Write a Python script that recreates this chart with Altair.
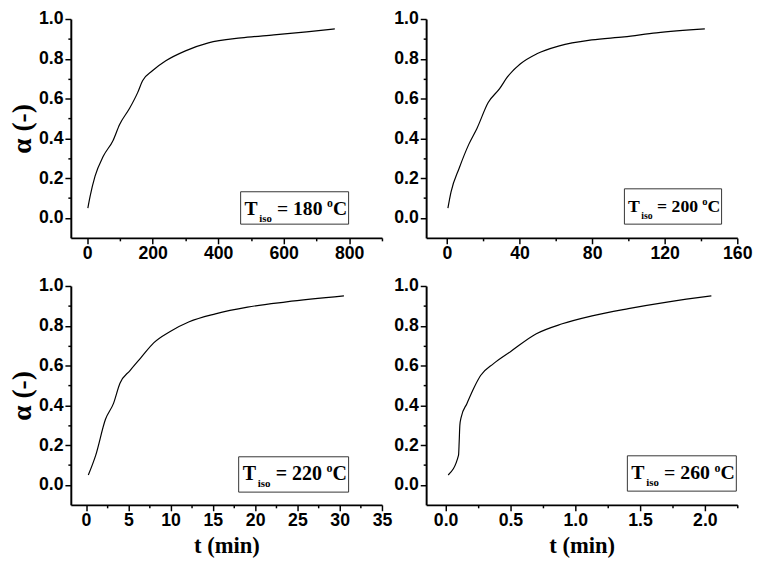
import altair as alt
import pandas as pd

# ---- data ----
t180 = [2, 9, 24, 49, 79, 99, 129, 154, 169, 199, 240, 300, 370, 470, 570, 670, 756]
a180 = [0.05, 0.11, 0.21, 0.31, 0.39, 0.47, 0.55, 0.63, 0.69, 0.74, 0.79, 0.84, 0.88, 0.905, 0.92, 0.935, 0.95]

t200 = [0.5, 2.2, 6.7, 12.0, 16.5, 22.7, 29.0, 33.4, 40.5, 49.5, 61.9, 79.8, 97.6, 115.4, 142.1]
a200 = [0.05, 0.13, 0.25, 0.37, 0.45, 0.58, 0.65, 0.71, 0.775, 0.825, 0.865, 0.895, 0.91, 0.93, 0.95]

t220 = [0.27, 1.15, 2.3, 3.25, 4.0, 5.2, 6.5, 8.0, 9.9, 12.2, 15.3, 19.1, 23.7, 30.5]
a220 = [0.05, 0.15, 0.33, 0.41, 0.51, 0.575, 0.64, 0.714, 0.77, 0.82, 0.86, 0.894, 0.92, 0.95]

t260 = [0.02, 0.10, 0.105, 0.11, 0.12, 0.165, 0.22, 0.27, 0.37, 0.50, 0.70, 0.90, 1.13, 1.41, 1.72, 2.05]
a260 = [0.05, 0.15, 0.22, 0.30, 0.34, 0.41, 0.49, 0.55, 0.61, 0.67, 0.76, 0.81, 0.85, 0.886, 0.92, 0.95]

temps = ["180", "200", "220", "260"]
x_domains = [[-50, 900], [-11.5, 160], [-1.8, 35], [-0.15, 2.25]]
x_minor_steps = [100, 20, 2.5, 0.25]
x_counts = [10, 9, 15, 10]
x_formats = ["d", "d", "d", ".1f"]
y_ticks = [round(i * 0.1, 1) for i in range(11)]

W, H = 317, 223
SERIF = "Liberation Serif"
SANS = "Liberation Sans"

one = pd.DataFrame({"k": [0]})


def panel(t, a, i, show_x_title, show_y_title, box):
    step = x_minor_steps[i]
    xvals = [round(k * step, 4) for k in range(x_counts[i])]
    fmt = x_formats[i]
    xaxis = alt.Axis(
        values=xvals,
        title="t (min)" if show_x_title else None,
        labelExpr=f"round(datum.value/{step}) % 2 == 0 ? format(datum.value, '{fmt}') : ''",
        tickSize={"condition": {"test": f"round(datum.value/{step}) % 2 != 0", "value": 3}, "value": 6},
        labelFlush=False,
        labelOverlap=False,
        titlePadding=6,
        titleFontSize=23,
        labelPadding=1,
    )
    yaxis = alt.Axis(
        values=y_ticks,
        title="α (-)" if show_y_title else None,
        labelExpr="round(datum.value*10) % 2 == 0 ? format(datum.value, '.1f') : ''",
        tickSize={"condition": {"test": "round(datum.value*10) % 2 != 0", "value": 3}, "value": 6},
        labelOverlap=False,
        titlePadding=2,
        titleFontSize=28,
        labelPadding=2,
    )
    df = pd.DataFrame({"t": t, "a": a})
    line = alt.Chart(df).mark_line(color="black", strokeWidth=1.2, interpolate="monotone").encode(
        x=alt.X("t:Q", scale=alt.Scale(domain=x_domains[i], nice=False, zero=False), axis=xaxis),
        y=alt.Y("a:Q", scale=alt.Scale(domain=[-0.1, 1.0], nice=False, zero=False), axis=yaxis),
    )
    bx, by, bw, bh = box
    s = bw / 110.0
    fs = 20 * s
    rect = alt.Chart(one).mark_rect(fill="white", stroke="#333", strokeWidth=1).encode(
        x=alt.value(bx), x2=alt.value(bx + bw), y=alt.value(by), y2=alt.value(by + bh)
    )

    def txt(text, dx, dy, size):
        return alt.Chart(one).mark_text(
            text=text, font=SERIF, fontWeight="bold", fontSize=size, align="left",
            baseline="alphabetic", color="black"
        ).encode(x=alt.value(bx + dx * s), y=alt.value(by + dy))

    layers = [
        line, rect,
        txt("T", 4, 24, fs),
        txt("iso", 19, 31, 11 * s),
        txt("= " + temps[i], 37, 24, fs),
        txt("o", 88, 16, 12 * s),
        txt("C", 94, 24, fs),
    ]
    return alt.layer(*layers).properties(width=W, height=H)


p1 = panel(t180, a180, 0, False, True, (173, 176, 110, 33))
p2 = panel(t200, a200, 1, False, False, (202, 173, 99, 36))
p3 = panel(t220, a220, 2, True, True, (171, 174, 112, 36))
p4 = panel(t260, a260, 3, True, False, (205, 173, 111, 36))

chart = alt.concat(p1, p2, p3, p4, columns=2, spacing={"row": 49, "column": 45}, bounds="flush").properties(
    padding={"top": -3, "left": 0, "right": 0, "bottom": 0}
).configure_view(stroke=None).configure_axis(
    grid=False,
    domainColor="black",
    domainWidth=2,
    tickColor="black",
    tickWidth=1.5,
    labelFont=SANS,
    labelFontWeight="bold",
    labelFontSize=18,
    labelColor="black",
    titleFont=SERIF,
    titleFontWeight="bold",
    titleColor="black",
)

chart.save("out.html", embed_options={"renderer": "svg", "actions": False})
